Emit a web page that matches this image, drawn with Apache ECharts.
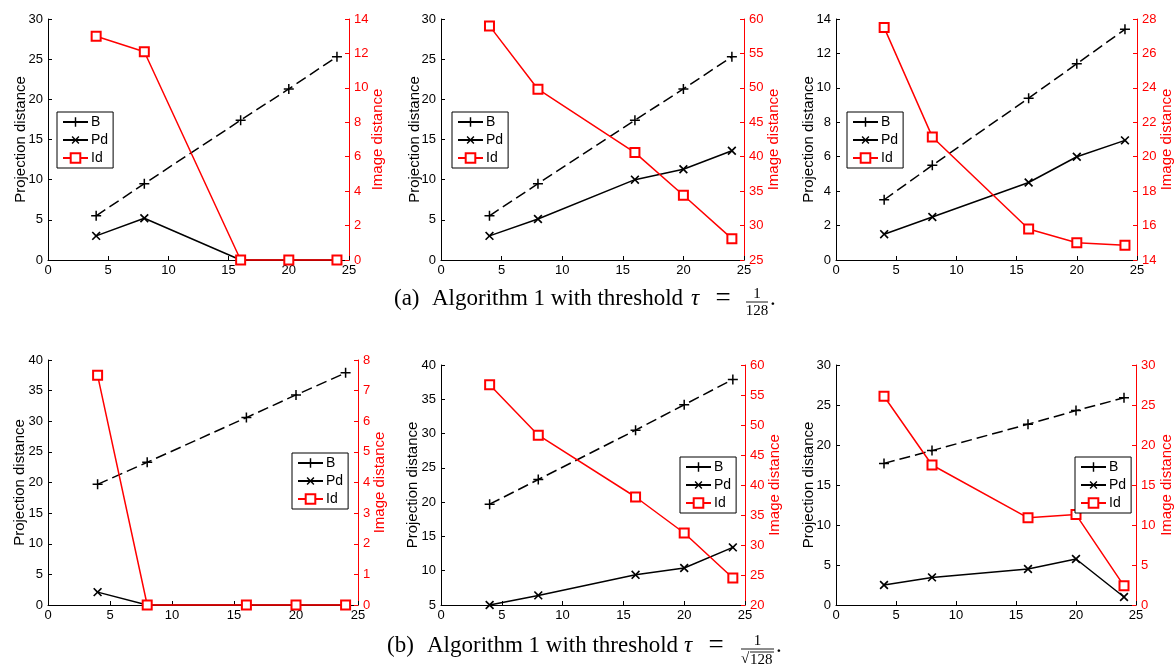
<!DOCTYPE html>
<html>
<head>
<meta charset="utf-8">
<script src="https://cdn.jsdelivr.net/npm/echarts@6/dist/echarts.min.js"></script>
<style>
  html, body { margin: 0; padding: 0; background: #fff; }
  #main { width: 1175px; height: 667px; }
</style>
</head>
<body>
<div id="main"></div>
<script>
// x positions shared by all six panels
var xValues = [4, 8, 16, 20, 24];
var xTicks = [0, 5, 10, 15, 20, 25];

// (a) tau = 1/128
var bA1 = [5.5, 9.5, 17.4, 21.3, 25.3];
var pdA1 = [3.0, 5.2, 0, 0, 0];
var idA1 = [13.0, 12.1, 0, 0, 0];
var bA2 = [5.5, 9.5, 17.4, 21.3, 25.3];
var pdA2 = [3.0, 5.1, 10.0, 11.3, 13.6];
var idA2 = [59.0, 49.8, 40.6, 34.4, 28.1];
var bA3 = [3.5, 5.5, 9.4, 11.4, 13.4];
var pdA3 = [1.5, 2.5, 4.5, 6.0, 6.95];
var idA3 = [27.5, 21.15, 15.8, 15.0, 14.85];

// (b) tau = 1/sqrt(128)
var bB1 = [19.7, 23.3, 30.6, 34.3, 37.9];
var pdB1 = [2.1, 0, 0, 0, 0];
var idB1 = [7.5, 0, 0, 0, 0];
var bB2 = [19.7, 23.3, 30.5, 34.2, 37.9];
var pdB2 = [5.0, 6.4, 9.4, 10.4, 13.4];
var idB2 = [56.7, 48.3, 38.0, 32.0, 24.5];
var bB3 = [17.7, 19.3, 22.6, 24.3, 25.9];
var pdB3 = [2.5, 3.45, 4.5, 5.75, 1.0];
var idB3 = [26.1, 17.5, 10.9, 11.3, 2.4];

// tick labels of each left / right axis
var leftTicksA1 = [0, 5, 10, 15, 20, 25, 30];
var rightTicksA1 = [0, 2, 4, 6, 8, 10, 12, 14];
var leftTicksA2 = [0, 5, 10, 15, 20, 25, 30];
var rightTicksA2 = [25, 30, 35, 40, 45, 50, 55, 60];
var leftTicksA3 = [0, 2, 4, 6, 8, 10, 12, 14];
var rightTicksA3 = [14, 16, 18, 20, 22, 24, 26, 28];
var leftTicksB1 = [0, 5, 10, 15, 20, 25, 30, 35, 40];
var rightTicksB1 = [0, 1, 2, 3, 4, 5, 6, 7, 8];
var leftTicksB2 = [5, 10, 15, 20, 25, 30, 35, 40];
var rightTicksB2 = [20, 25, 30, 35, 40, 45, 50, 55, 60];
var leftTicksB3 = [0, 5, 10, 15, 20, 25, 30];
var rightTicksB3 = [0, 5, 10, 15, 20, 25, 30];

var seriesNames = ['B', 'Pd', 'Id'];
var leftName = 'Projection distance';
var rightName = 'Image distance';

var panels = [
  { b: bA1, pd: pdA1, id: idA1, lt: leftTicksA1, rt: rightTicksA1,
    grid: { left: 48, top: 19, width: 301, height: 241 }, legend: { left: 57, top: 112 }, gap: [20, 21] },
  { b: bA2, pd: pdA2, id: idA2, lt: leftTicksA2, rt: rightTicksA2,
    grid: { left: 441, top: 19, width: 303, height: 241 }, legend: { left: 452, top: 112 }, gap: [19, 22] },
  { b: bA3, pd: pdA3, id: idA3, lt: leftTicksA3, rt: rightTicksA3,
    grid: { left: 836, top: 19, width: 304, height: 241 }, legend: { left: 847, top: 112 }, gap: [20, 22] },
  { b: bB1, pd: pdB1, id: idB1, lt: leftTicksB1, rt: rightTicksB1,
    grid: { left: 48, top: 360, width: 310, height: 245 }, legend: { left: 292, top: 453 }, gap: [21, 14] },
  { b: bB2, pd: pdB2, id: idB2, lt: leftTicksB2, rt: rightTicksB2,
    grid: { left: 441, top: 365, width: 304, height: 240 }, legend: { left: 680, top: 457 }, gap: [21, 22] },
  { b: bB3, pd: pdB3, id: idB3, lt: leftTicksB3, rt: rightTicksB3,
    grid: { left: 836, top: 365, width: 305, height: 240 }, legend: { left: 1075, top: 457 }, gap: [20, 23] }
];

var FONT = '"Liberation Sans", Arial, Helvetica, sans-serif';
var SERIF = '"Liberation Serif", "Times New Roman", serif';
var RED = '#ff0000';
var PLUS = 'path://M4.25,0H5.75V4.25H10V5.75H5.75V10H4.25V5.75H0V4.25H4.25Z';

function pairs(ys) {
  var out = [];
  for (var i = 0; i < xValues.length; i++) out.push([xValues[i], ys[i]]);
  return out;
}

function yAxisOf(ticks, gridIndex, color, name, gap, pos) {
  return {
    type: 'value', gridIndex: gridIndex, position: pos,
    min: ticks[0], max: ticks[ticks.length - 1], interval: ticks[1] - ticks[0],
    name: name, nameLocation: 'middle', nameRotate: 90, nameGap: gap, nameMoveOverlap: false,
    nameTextStyle: { color: color, fontSize: 15, fontFamily: FONT },
    axisLine: { show: true, lineStyle: { color: color, width: 1 } },
    axisTick: { show: true, inside: true, length: 4, lineStyle: { color: color } },
    axisLabel: { color: color, fontSize: 13, fontFamily: FONT, margin: 5 },
    splitLine: { show: false }
  };
}

var grids = [], xAxes = [], yAxes = [], series = [], legends = [];

panels.forEach(function (p, k) {
  grids.push({ left: p.grid.left, top: p.grid.top, width: p.grid.width, height: p.grid.height, containLabel: false });
  xAxes.push({
    type: 'value', gridIndex: k,
    min: xTicks[0], max: xTicks[xTicks.length - 1], interval: xTicks[1] - xTicks[0],
    axisLine: { show: true, onZero: false, lineStyle: { color: '#000', width: 1 } },
    axisTick: { show: true, inside: true, length: 4, lineStyle: { color: '#000' } },
    axisLabel: { color: '#000', fontSize: 13, fontFamily: FONT, margin: 4 },
    splitLine: { show: false }
  });
  yAxes.push(yAxisOf(p.lt, k, '#000', leftName, p.gap[0], 'left'));
  yAxes.push(yAxisOf(p.rt, k, RED, rightName, p.gap[1], 'right'));

  series.push({
    name: seriesNames[0], type: 'line', xAxisIndex: k, yAxisIndex: 2 * k,
    data: pairs(p.b), clip: false, animation: false,
    symbol: PLUS, symbolSize: 10,
    itemStyle: { color: '#000', borderWidth: 0 },
    lineStyle: { color: '#000', width: 1.5, type: [11, 5] }
  });
  series.push({
    name: seriesNames[1], type: 'line', xAxisIndex: k, yAxisIndex: 2 * k,
    data: pairs(p.pd), clip: false, animation: false,
    symbol: PLUS, symbolSize: 11, symbolRotate: 45,
    itemStyle: { color: '#000', borderWidth: 0 },
    lineStyle: { color: '#000', width: 1.5 }
  });
  series.push({
    name: seriesNames[2], type: 'line', xAxisIndex: k, yAxisIndex: 2 * k + 1,
    data: pairs(p.id), clip: false, animation: false,
    symbol: 'emptyRect', symbolSize: 9,
    itemStyle: { color: RED, borderColor: RED, borderWidth: 1.5 },
    lineStyle: { color: RED, width: 1.5 }
  });

  legends.push({
    data: seriesNames, orient: 'vertical', left: p.legend.left, top: p.legend.top,
    backgroundColor: '#fff', borderColor: '#000', borderWidth: 1, borderRadius: 0,
    padding: [3, 5, 3, 5], itemGap: 4, itemWidth: 25, itemHeight: 12,
    lineStyle: { type: 'solid' },
    textStyle: { color: '#000', fontSize: 14, fontFamily: FONT, padding: [0, 0, 0, -2] },
    selectedMode: false
  });
});

// caption pieces: label, main text, tau, '=', fraction and full stop
function caption(c) {
  var f = '23px ' + SERIF;
  var els = [
    { type: 'text', x: c.labelX, y: c.midY, style: { text: c.label, font: f, fill: '#000', textVerticalAlign: 'middle' } },
    { type: 'text', x: c.textX, y: c.midY, style: { text: 'Algorithm 1 with threshold', font: f, fill: '#000', textVerticalAlign: 'middle' } },
    { type: 'text', x: c.tauX, y: c.midY, style: { text: 'τ', font: 'italic ' + f, fill: '#000', textVerticalAlign: 'middle' } },
    { type: 'text', x: c.eqX, y: c.midY, style: { text: '=', font: '27px ' + SERIF, fill: '#000', textAlign: 'center', textVerticalAlign: 'middle' } },
    { type: 'text', x: c.fracX + c.fracW / 2, y: c.barY - 8, style: { text: '1', font: '15px ' + SERIF, fill: '#000', textAlign: 'center', textVerticalAlign: 'middle' } },
    { type: 'line', shape: { x1: c.fracX, y1: c.barY, x2: c.fracX + c.fracW, y2: c.barY }, style: { stroke: '#000', lineWidth: 0.9 } },
    { type: 'text', x: c.fracX + c.fracW + 2, y: c.midY, style: { text: '.', font: f, fill: '#000', textVerticalAlign: 'middle' } }
  ];
  if (c.sqrt) {
    els.push({ type: 'text', x: c.fracX, y: c.barY + 10, style: { text: '√', font: '15px ' + SERIF, fill: '#000', textVerticalAlign: 'middle' } });
    els.push({ type: 'text', x: c.fracX + 9, y: c.barY + 11, style: { text: '128', font: '15px ' + SERIF, fill: '#000', textVerticalAlign: 'middle' } });
    els.push({ type: 'line', shape: { x1: c.fracX + 9, y1: c.barY + 3, x2: c.fracX + c.fracW, y2: c.barY + 3 }, style: { stroke: '#000', lineWidth: 0.9 } });
  } else {
    els.push({ type: 'text', x: c.fracX + c.fracW / 2, y: c.barY + 9, style: { text: '128', font: '15px ' + SERIF, fill: '#000', textAlign: 'center', textVerticalAlign: 'middle' } });
  }
  return els;
}

var graphics = caption({ label: '(a)', labelX: 394, textX: 432, tauX: 691, eqX: 723, midY: 299, fracX: 746, fracW: 22, barY: 302, sqrt: false })
  .concat(caption({ label: '(b)', labelX: 387, textX: 427, tauX: 684, eqX: 716, midY: 646, fracX: 741, fracW: 33, barY: 649, sqrt: true }));

var chart = echarts.init(document.getElementById('main'), null, { renderer: 'canvas' });
chart.setOption({
  backgroundColor: '#fff',
  animation: false,
  grid: grids,
  xAxis: xAxes,
  yAxis: yAxes,
  legend: legends,
  series: series,
  graphic: graphics
});
</script>
</body>
</html>
